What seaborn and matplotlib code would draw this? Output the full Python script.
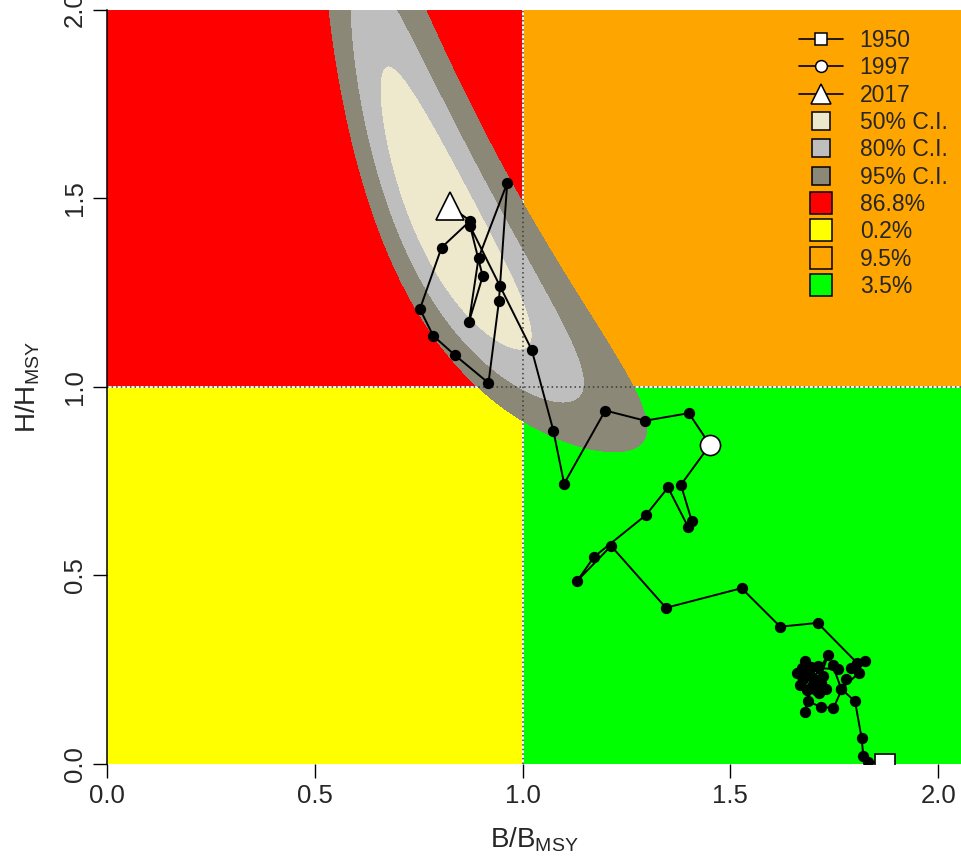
import matplotlib
matplotlib.use("Agg")
import matplotlib.pyplot as plt
import numpy as np
import pandas as pd
import seaborn as sns
from matplotlib.lines import Line2D

sns.set_style("white")
plt.rcParams["font.family"] = ["Liberation Sans", "DejaVu Sans"]
plt.rcParams["mathtext.fontset"] = "custom"
plt.rcParams["mathtext.rm"] = "Liberation Sans"
plt.rcParams["mathtext.it"] = "Liberation Sans"

# ---------------------------------------------------------------------------
# Trajectory B/Bmsy, H/Hmsy (1950-2017)
# ---------------------------------------------------------------------------
years = list(range(1950, 2018))
b_ratio = [
    1.872, 1.832, 1.820, 1.816, 1.800,
    1.767, 1.779, 1.748, 1.717, 1.686, 1.680, 1.696, 1.667, 1.661, 1.680,
    1.690, 1.713, 1.719, 1.700, 1.735, 1.705, 1.685, 1.675, 1.693, 1.722,
    1.730, 1.710, 1.672, 1.759, 1.746, 1.767, 1.809, 1.790, 1.824,
    1.804,
    1.710, 1.620, 1.527, 1.345, 1.213, 1.131, 1.172, 1.297, 1.350, 1.398,
    1.407, 1.381,
    1.451,
    1.400, 1.295, 1.199, 1.100, 1.074, 1.022, 0.946, 0.874, 0.904, 0.871,
    0.894, 0.963, 0.943, 0.918, 0.838, 0.785, 0.753, 0.805, 0.874,
    0.825,
]
h_ratio = [
    0.000, 0.006, 0.020, 0.068, 0.166,
    0.199, 0.225, 0.148, 0.152, 0.166, 0.139, 0.206, 0.210, 0.241, 0.273,
    0.241, 0.188, 0.216, 0.228, 0.288, 0.195, 0.195, 0.225, 0.258, 0.232,
    0.200, 0.260, 0.255, 0.252, 0.262, 0.199, 0.241, 0.255, 0.272,
    0.269,
    0.374, 0.364, 0.466, 0.414, 0.578, 0.485, 0.549, 0.660, 0.733, 0.629,
    0.645, 0.740,
    0.846,
    0.930, 0.910, 0.937, 0.743, 0.884, 1.098, 1.266, 1.425, 1.293, 1.172,
    1.341, 1.540, 1.226, 1.010, 1.083, 1.135, 1.206, 1.369, 1.440,
    1.478,
]
highlight_years = [1950, 1997, 2017]
highlight_markers = ["s", "o", "^"]
highlight_sizes = [14, 14.5, 20]

# quadrant probabilities (red, yellow, orange, green)
quad_labels = ["86.8%", "0.2%", "9.5%", "3.5%"]
quad_colors = ["#FF0000", "#FFFF00", "#FFA500", "#00FF00"]

# final-year joint posterior, summarised as a bivariate normal on the log scale
ci_center = (0.82, 1.425)       # B/Bmsy, H/Hmsy
ci_log_sd = (0.188, 0.222)
ci_log_rho = -0.865
ci_probs = [0.50, 0.80, 0.95]
ci_labels = ["50% C.I.", "80% C.I.", "95% C.I."]
ci_colors = ["#EEE8CD", "#BEBEBE", "#8B8878"]

df = pd.DataFrame({"year": years, "B": b_ratio, "H": h_ratio})

# ---------------------------------------------------------------------------
# Figure
# ---------------------------------------------------------------------------
W, H = 961, 857
fig = plt.figure(figsize=(W / 100, H / 100), dpi=100)
ax = fig.add_axes([107 / W, (H - 764) / H, (W - 107) / W, (764 - 9.5) / H])
xmax, ymax = 2.055, 2.0
ax.set_xlim(0, xmax)
ax.set_ylim(0, ymax)

# quadrants
ax.fill_between([0, 1], 1, ymax, color=quad_colors[0], lw=0, zorder=0)
ax.fill_between([0, 1], 0, 1, color=quad_colors[1], lw=0, zorder=0)
ax.fill_between([1, xmax], 1, ymax, color=quad_colors[2], lw=0, zorder=0)
ax.fill_between([1, xmax], 0, 1, color=quad_colors[3], lw=0, zorder=0)
ax.axvline(1, color="white", lw=1.3, zorder=0.5)
ax.axhline(1, color="white", lw=1.3, zorder=0.5)

# credible regions (Mahalanobis distance on log scale vs chi-square quantiles)
gx = np.linspace(0.01, 3.0, 600)
gy = np.linspace(0.01, 3.0, 600)
X, Y = np.meshgrid(gx, gy)
u = (np.log(X) - np.log(ci_center[0])) / ci_log_sd[0]
v = (np.log(Y) - np.log(ci_center[1])) / ci_log_sd[1]
Q = (u**2 - 2 * ci_log_rho * u * v + v**2) / (1 - ci_log_rho**2)
levels = [-1.0] + [-2 * np.log(1 - p) for p in ci_probs]
ax.contourf(X, Y, Q, levels=levels, colors=ci_colors, zorder=1)

ax.axvline(1, color="#3a3a3a", lw=1.1, ls=(0, (1, 2)), zorder=2)
ax.axhline(1, color="#3a3a3a", lw=1.1, ls=(0, (1, 2)), zorder=2)

# trajectory
sns.lineplot(data=df, x="B", y="H", sort=False, color="black", lw=1.4,
             estimator=None, ax=ax, zorder=3)
sns.scatterplot(data=df, x="B", y="H", color="black", s=66, edgecolor="black",
                linewidth=0, ax=ax, zorder=4, legend=False)
for yr, mk, ms in zip(highlight_years, highlight_markers, highlight_sizes):
    row = df[df["year"] == yr].iloc[0]
    ax.plot(row["B"], row["H"], marker=mk, ms=ms, mfc="white", mec="black",
            mew=1.2, ls="none", zorder=5, clip_on=True)

# axes styling
for s in ["top", "right", "bottom"]:
    ax.spines[s].set_visible(False)
ax.spines["left"].set_linewidth(1.1)
ax.spines["left"].set_color("black")
ticks = [0.0, 0.5, 1.0, 1.5, 2.0]
ax.set_xticks(ticks)
ax.set_xticklabels([f"{t:.1f}" for t in ticks], fontsize=18.5)
ax.set_yticks(ticks)
ax.set_yticklabels([f"{t:.1f}" for t in ticks], fontsize=18.5,
                   rotation=90, va="center")
ax.tick_params(axis="both", direction="out", length=10, width=1, color="black",
               left=True, bottom=True, pad=4.5)
ax.set_xlabel(r"B/B$_{\mathrm{MSY}}$", fontsize=20)
ax.set_ylabel(r"H/H$_{\mathrm{MSY}}$", fontsize=20)
ax.xaxis.set_label_coords(0.5, -0.082)
ax.yaxis.set_label_coords(-0.076, 0.5)

# legend
handles = []
for mk, ms in zip(highlight_markers, [8.5, 8.5, 14]):
    handles.append(Line2D([], [], color="black", lw=1.2, marker=mk, ms=ms,
                          mfc="white", mec="black", mew=1.1))
for c in ci_colors:
    handles.append(Line2D([], [], ls="none", marker="s", ms=12.5, mfc=c,
                          mec="black", mew=1.1))
for c in quad_colors:
    handles.append(Line2D([], [], ls="none", marker="s", ms=16, mfc=c,
                          mec="black", mew=1.1))
labels = [str(y) for y in highlight_years] + ci_labels + quad_labels
ax.legend(handles, labels, loc="upper left",
          bbox_to_anchor=(799 / W, 1 - 29 / H), bbox_transform=fig.transFigure,
          frameon=False, fontsize=16.5, handlelength=1.9, handletextpad=0.75,
          labelspacing=0.19, borderpad=0, borderaxespad=0)

fig.savefig("out.png", dpi=100)
